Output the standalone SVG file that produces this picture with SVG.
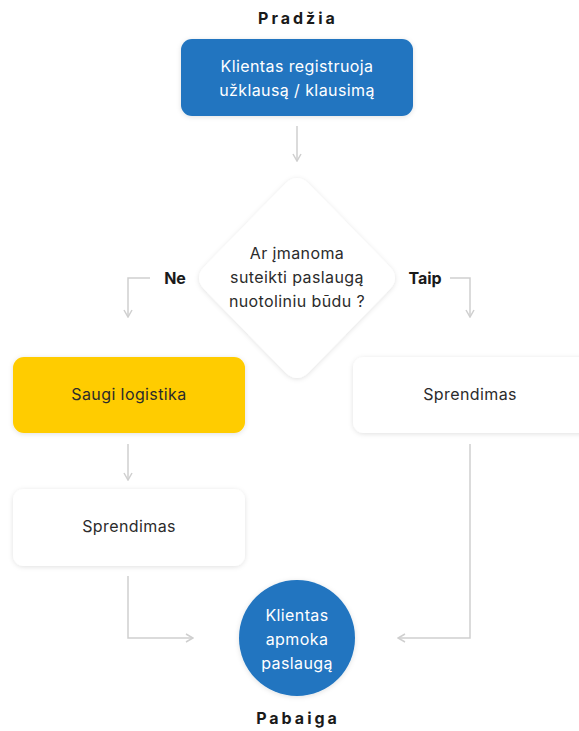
<svg xmlns="http://www.w3.org/2000/svg" width="579" height="731" viewBox="0 0 579 731">
<style>
.t{font-family:Inter,"Noto Sans","Liberation Sans",sans-serif;font-size:16px;letter-spacing:0.4px;text-anchor:middle;fill:#2b2b2b}
.w{fill:#ffffff}
.h{font-family:Inter,"Noto Sans","Liberation Sans",sans-serif;font-size:16px;font-weight:700;letter-spacing:3px;text-anchor:middle;fill:#1a1a1a}
.b{font-family:Inter,"Noto Sans","Liberation Sans",sans-serif;font-size:16px;font-weight:700;text-anchor:middle;fill:#1a1a1a}
.c{fill:none;stroke:#cfcfcf;stroke-width:1.5}
</style>
<defs>
<filter id="sh" x="-20%" y="-20%" width="140%" height="140%">
<feDropShadow dx="0" dy="1" stdDeviation="2.5" flood-color="#000" flood-opacity="0.12"/>
</filter>
<marker id="ar" viewBox="0 0 10 10" refX="9" refY="5" markerWidth="10" markerHeight="10" markerUnits="userSpaceOnUse" orient="auto">
<path d="M2,1 L9,5 L2,9" fill="none" stroke="#cfcfcf" stroke-width="1.5"/>
</marker>
</defs>
<text class="h" x="298" y="24">Pradžia</text>
<g id="connectors">
<path class="c" d="M297,126 V161" marker-end="url(#ar)"/>
<path class="c" d="M150,278 H128 V317" marker-end="url(#ar)"/>
<path class="c" d="M450,278 H470 V317" marker-end="url(#ar)"/>
<path class="c" d="M128,444 V480" marker-end="url(#ar)"/>
<path class="c" d="M128,576 V638 H193" marker-end="url(#ar)"/>
<path class="c" d="M470,444 V638 H398" marker-end="url(#ar)"/>
</g>
<g id="start">
<rect x="181" y="39" width="232" height="77" rx="11" fill="#2175c0" filter="url(#sh)"/>
<text class="t w" x="297" y="72">Klientas registruoja</text>
<text class="t w" x="297" y="96">užklausą / klausimą</text>
</g>
<g id="decision">
<path d="M286,183 Q297,173 308,183 L390,267 Q400,278 390,289 L308,373 Q297,383 286,373 L204,289 Q194,278 204,267 Z" fill="#fff" filter="url(#sh)"/>
<text class="t" x="297" y="259">Ar įmanoma</text>
<text class="t" x="297" y="283">suteikti paslaugą</text>
<text class="t" x="297" y="307">nuotoliniu būdu ?</text>
</g>
<text class="b" x="175" y="284">Ne</text>
<text class="b" x="425" y="284">Taip</text>
<g id="logistics">
<rect x="13" y="357" width="232" height="76" rx="11" fill="#ffcc00" filter="url(#sh)"/>
<text class="t" x="129" y="400">Saugi logistika</text>
</g>
<g id="solution-right">
<rect x="353" y="357" width="240" height="76" rx="11" fill="#fff" filter="url(#sh)"/>
<text class="t" x="470" y="400">Sprendimas</text>
</g>
<g id="solution-left">
<rect x="13" y="489" width="232" height="77" rx="11" fill="#fff" filter="url(#sh)"/>
<text class="t" x="129" y="532">Sprendimas</text>
</g>
<g id="end">
<circle cx="297" cy="638" r="58" fill="#2175c0" filter="url(#sh)"/>
<text class="t w" x="297" y="621">Klientas</text>
<text class="t w" x="297" y="645">apmoka</text>
<text class="t w" x="297" y="669">paslaugą</text>
</g>
<text class="h" x="298" y="724">Pabaiga</text>
</svg>
